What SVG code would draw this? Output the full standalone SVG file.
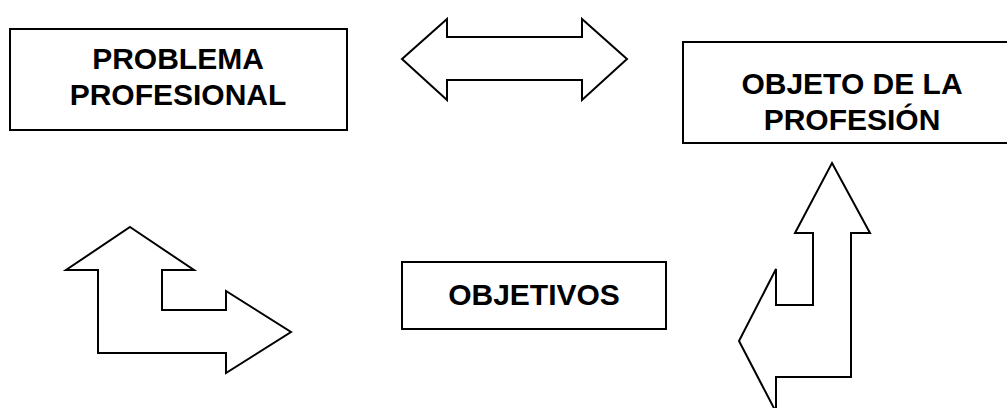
<svg xmlns="http://www.w3.org/2000/svg" width="1007" height="408" viewBox="0 0 1007 408">
<style>
.box{fill:#fff;stroke:#000;stroke-width:2}
.arr{fill:#fff;stroke:#000;stroke-width:2;stroke-linejoin:miter}
.t{font-family:"Liberation Sans",Arial,sans-serif;font-weight:bold;font-size:30px;fill:#000;text-anchor:middle}
</style>
<rect width="1007" height="408" fill="#fff"/>
<g id="connectors">
<polygon class="arr" points="402,59 447,19 447,37 582,37 582,19 627,59 582,100 582,80 447,80 447,100"/>
<polygon class="arr" points="130,227 194,270 162,270 162,310 226,310 226,291 291,332 226,373 226,353 98,353 98,270 66,270"/>
<polygon class="arr" points="832,163 870,233 851,233 851,377 776,377 776,412 739,341 776,269 776,305 813,305 813,233 795,233"/>
</g>
<g id="problema">
<rect class="box" x="10" y="29" width="337" height="101"/>
<text class="t" x="178" y="69">PROBLEMA</text>
<text class="t" x="178" y="105">PROFESIONAL</text>
</g>
<g id="objeto">
<rect class="box" x="683" y="42" width="340" height="101"/>
<text class="t" x="852" y="94">OBJETO DE LA</text>
<text class="t" x="852" y="130">PROFESIÓN</text>
</g>
<g id="objetivos">
<rect class="box" x="402" y="262" width="264" height="67"/>
<text class="t" x="534" y="305">OBJETIVOS</text>
</g>
</svg>
